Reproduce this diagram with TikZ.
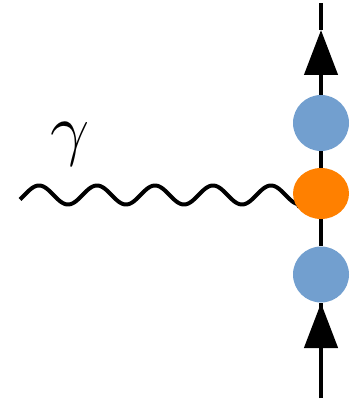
\documentclass[tikz,border=0pt]{standalone}
\usetikzlibrary{arrows.meta,shapes.geometric,backgrounds}
\definecolor{dotblue}{RGB}{114,159,207}
\definecolor{dotorange}{RGB}{255,128,0}
\begin{document}
\begin{tikzpicture}[x=1pt,y=-1pt,
  blob/.style={circle,inner sep=0pt,minimum size=56pt,fill=dotblue},
  vtx/.style={ellipse,inner sep=0pt,minimum width=56pt,minimum height=51pt,fill=dotorange},
  fline/.style={line width=4.5pt,black},
  tri/.style={fline,-{Triangle[length=45pt,width=33pt]}},
  wave/.style={line width=4pt,black,line join=round}]
\useasboundingbox (0,0) rectangle (357,401);
\node[blob] (b1) at (321,123) {};
\node[vtx] (v) at (321,193.5) {};
\node[blob] (b2) at (321,274.5) {};
\coordinate (top) at (321,3);
\coordinate (tipt) at (321,30);
\coordinate (bot) at (321,398);
\coordinate (tipb) at (321,303);
\coordinate (w) at (20,195);
\node[font=\Huge,scale=2.8,inner sep=0pt] (g) at (70,144) {$\gamma$};
\begin{scope}[on background layer]
\draw[fline] (b1) -- (v) -- (b2);
\draw[fline] (bot) -- (b2);
\draw[fline] (tipt) -- (top);
\draw[tri] (bot) -- (tipb);
\draw[tri] (b1) -- (tipt);
\draw[wave] plot[domain=20:300,samples=200,smooth] (\x,{195-9.5*sin(6.2069*(\x-24.5))}) -- (v);
\end{scope}
\end{tikzpicture}
\end{document}
